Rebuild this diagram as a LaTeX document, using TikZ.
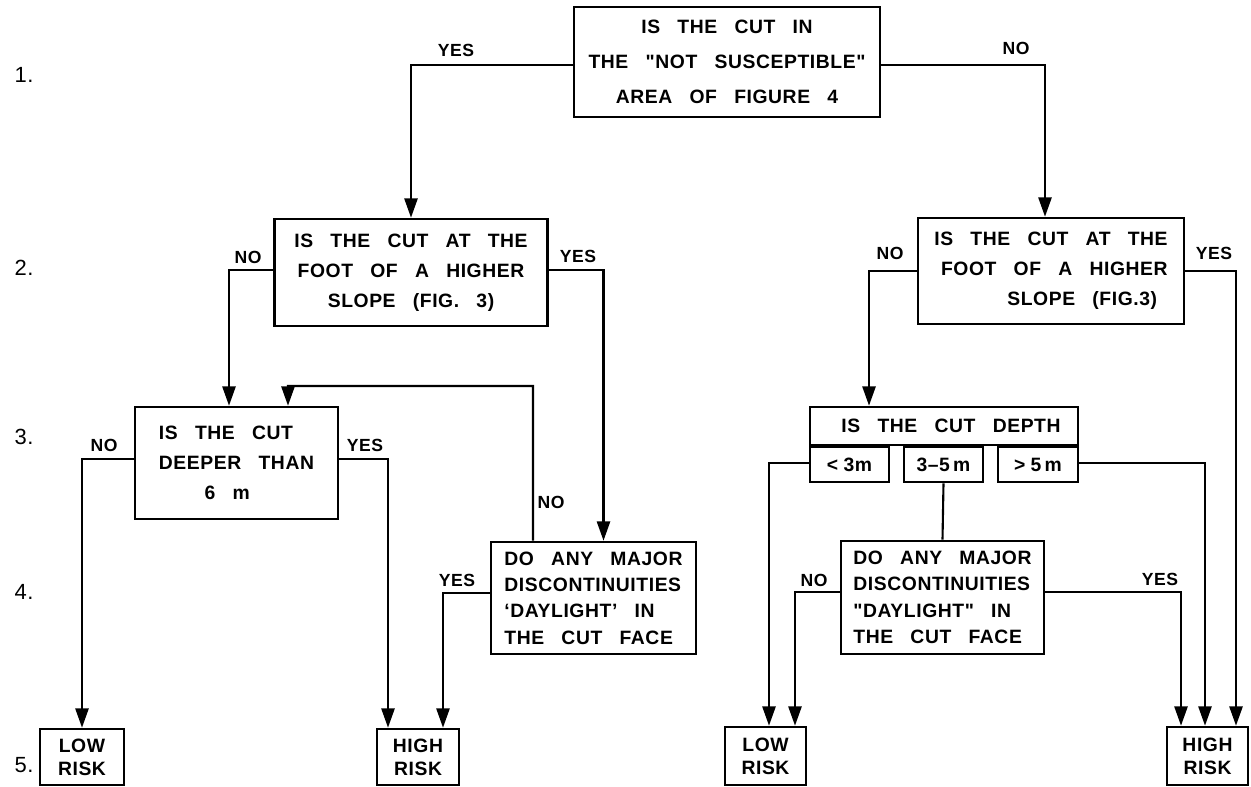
\documentclass[tikz,border=0pt]{standalone}
\usepackage{fontspec}
\setmainfont{Liberation Sans}[Ligatures=TeXOff,LetterSpace=3,WordSpace=2.9]
\usetikzlibrary{arrows.meta}
\begin{document}
\begin{tikzpicture}[x=0.02cm, y=-0.02cm,
  bx/.style={draw, line width=1.5pt, inner sep=0pt, font=\fontsize{11}{17}\selectfont\bfseries},
  sz/.style 2 args={minimum width=#1*0.02cm, minimum height=#2*0.02cm},
  lbl/.style={font=\fontsize{10}{11}\selectfont\bfseries, inner sep=0pt},
  lvl/.style={font=\fontsize{12.5}{14}\selectfont, inner sep=0pt},
  con/.style={line width=1.2pt},
  arr/.style={con, -{Triangle[length=11pt,width=7.5pt]}}]
\useasboundingbox (0,0) rectangle (1251,787);

% level numbers
\node[lvl] (l1) at (24,75) {1.};
\node[lvl] (l2) at (24,268) {2.};
\node[lvl] (l3) at (24,437) {3.};
\node[lvl] (l4) at (24,592) {4.};
\node[lvl] (l5) at (24,765) {5.};

% boxes
\node[bx, sz={306}{110}, align=center, font=\fontsize{11}{20}\selectfont\bfseries] (q1) at (727,62)
  {IS THE CUT IN\\THE "NOT SUSCEPTIBLE"\\AREA OF FIGURE 4};
\node[bx, sz={273}{107}, align=center] (q2L) at (411,272.5)
  {IS THE CUT AT THE\\FOOT OF A HIGHER\\SLOPE (FIG. 3)};
\node[bx, sz={266}{106}, align=right] (q2R) at (1051,271)
  {IS THE CUT AT THE\\FOOT OF A HIGHER\\SLOPE (FIG.3)\hspace*{6pt}};
\node[bx, sz={203}{112}, align=left] (q3L) at (236.5,463)
  {IS THE CUT\\DEEPER THAN\\\hspace*{26pt}6 m};
\node[bx, sz={268}{38}] (depth) at (944,426) {\hspace*{8pt}IS THE CUT DEPTH};
\node[bx, sz={79}{35}, font=\fontsize{11}{12}\selectfont\bfseries] (lt3) at (849.5,464.5) {<\;3m};
\node[bx, sz={79}{35}, font=\fontsize{11}{12}\selectfont\bfseries] (m35) at (943.5,464.5) {3–5\,m};
\node[bx, sz={80}{35}, font=\fontsize{11}{12}\selectfont\bfseries] (gt5) at (1038,464.5) {>\;5\,m};
\node[bx, sz={205}{112}, align=left, font=\fontsize{11}{15}\selectfont\bfseries] (q4L) at (593.5,598)
  {DO ANY MAJOR\\DISCONTINUITIES\\‘DAYLIGHT’ IN\\THE CUT FACE};
\node[bx, sz={203}{113}, align=left, font=\fontsize{11}{15}\selectfont\bfseries] (q4R) at (942.5,597.5)
  {DO ANY MAJOR\\DISCONTINUITIES\\"DAYLIGHT" IN\\THE CUT FACE};
\node[bx, sz={84}{56}, align=center, font=\fontsize{11}{13}\selectfont\bfseries] (lowL) at (82,757) {LOW\\RISK};
\node[bx, sz={82}{56}, align=center, font=\fontsize{11}{13}\selectfont\bfseries] (highL) at (418,757) {HIGH\\RISK};
\node[bx, sz={81}{58}, align=center, font=\fontsize{11}{13}\selectfont\bfseries] (lowR) at (765.5,756) {LOW\\RISK};
\node[bx, sz={81}{58}, align=center, font=\fontsize{11}{13}\selectfont\bfseries] (highR) at (1207.5,756) {HIGH\\RISK};

% connectors
\draw[arr] ([yshift=-0.06cm]q1.west) -| (q2L.north);
\draw[arr] ([yshift=-0.06cm]q1.east) -| ([xshift=-0.12cm]q2R.north);
\draw[arr] ([yshift=0.05cm]q2L.west) -| ([xshift=-0.15cm]q3L.north);
\draw[arr] ([yshift=0.05cm]q2L.east) -| ([xshift=0.2cm]q4L.north);
\coordinate (fb) at (533,386);
\draw[arr] ([xshift=-1.21cm]q4L.north) -- (fb) -| ([xshift=1.03cm]q3L.north);
\draw[arr] ([yshift=0.08cm]q3L.west) -| (lowL.north);
\draw[arr] ([yshift=0.08cm]q3L.east) -| ([xshift=-0.6cm]highL.north);
\draw[arr] ([yshift=0.1cm]q4L.west) -| ([xshift=0.5cm]highL.north);
\draw[arr] (q2R.west) -| ([xshift=-1.5cm]depth.north);
\draw[arr] (q2R.east) -| ([xshift=0.57cm]highR.north);
\draw[arr] ([yshift=0.03cm]lt3.west) -| ([xshift=0.07cm]lowR.north);
\draw[con] (m35.south) -- (q4R.north);
\draw[arr] ([yshift=0.11cm]q4R.west) -| ([xshift=0.59cm]lowR.north);
\draw[arr] ([yshift=0.11cm]q4R.east) -| ([xshift=-0.53cm]highR.north);
\draw[arr] ([yshift=0.03cm]gt5.east) -| ([xshift=-0.05cm]highR.north);

% labels
\node[lbl] (y1) at (456,50) {YES};
\node[lbl] (n1) at (1016,48) {NO};
\node[lbl] (n2L) at (248,257) {NO};
\node[lbl] (y2L) at (578,256) {YES};
\node[lbl] (n2R) at (890,253) {NO};
\node[lbl] (y2R) at (1214,253) {YES};
\node[lbl] (n3L) at (104,445) {NO};
\node[lbl] (y3L) at (365,445) {YES};
\node[lbl] (n4L) at (551,502) {NO};
\node[lbl] (y4L) at (457,580) {YES};
\node[lbl] (n4R) at (814,580) {NO};
\node[lbl] (y4R) at (1160,579) {YES};
\end{tikzpicture}
\end{document}
